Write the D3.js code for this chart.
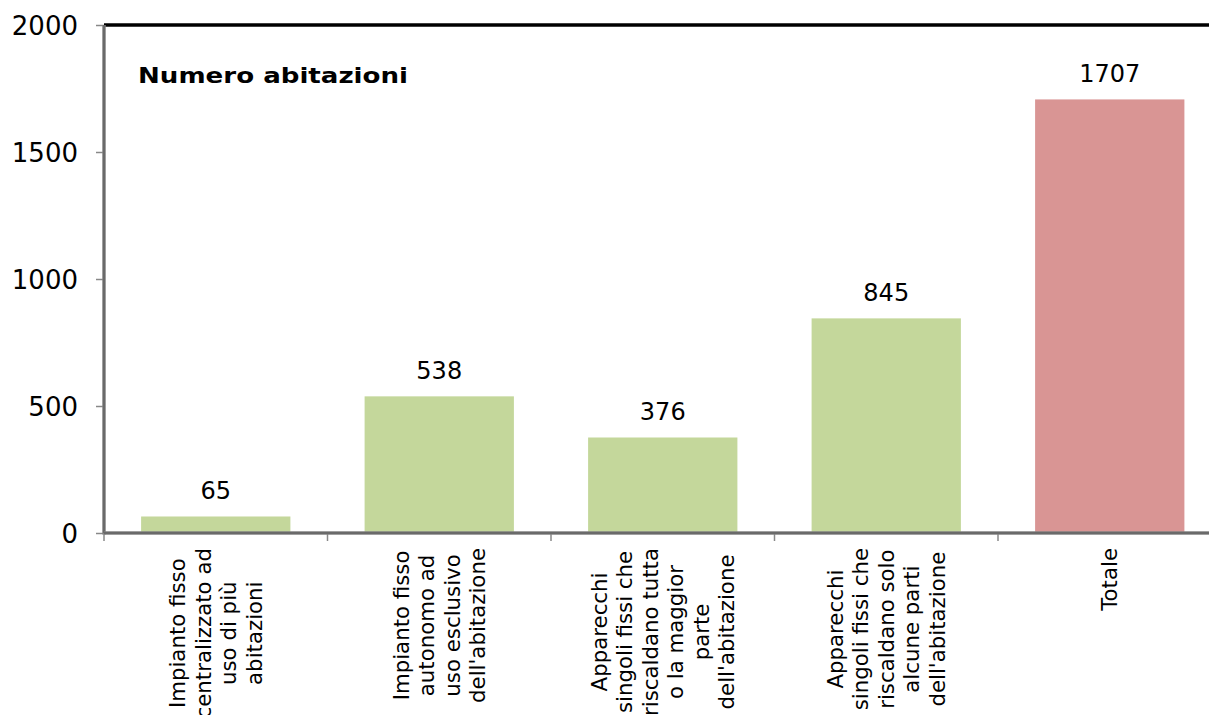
<!DOCTYPE html>
<html><head><meta charset="utf-8">
<script src="https://cdn.jsdelivr.net/npm/d3@7"></script>
<style>body{margin:0;background:#fff}svg{display:block}text{font-family:"DejaVu Sans",Verdana,sans-serif}</style>
</head><body><svg id="c" width="1209" height="715"></svg>
<script>
const categories = [
  "Impianto fisso\ncentralizzato ad\nuso di più\nabitazioni",
  "Impianto fisso\nautonomo ad\nuso esclusivo\ndell'abitazione",
  "Apparecchi\nsingoli fissi che\nriscaldano tutta\no la maggior\nparte\ndell'abitazione",
  "Apparecchi\nsingoli fissi che\nriscaldano solo\nalcune parti\ndell'abitazione",
  "Totale"
];
const values = [65, 538, 376, 845, 1707];
const barColors = ["#C4D79B", "#C4D79B", "#C4D79B", "#C4D79B", "#D99594"];
const yTicks = [0, 500, 1000, 1500, 2000];
const title = "Numero abitazioni";

const svg = d3.select("#c");
const mLeft = 104, mRight = 1221.5, mTop = 25, mBottom = 533;
const x = d3.scaleBand().domain(categories).range([mLeft, mRight]).paddingInner(0.332).paddingOuter(0.166);
const y = d3.scaleLinear().domain([0, 2000]).range([mBottom, mTop]);

// bars
svg.selectAll("rect.bar").data(values).join("rect").attr("class","bar")
  .attr("x",(d,i)=>x(categories[i])).attr("width",x.bandwidth())
  .attr("y",d=>y(d)).attr("height",d=>y(0)-y(d)).attr("fill",(d,i)=>barColors[i]);

// value labels
svg.selectAll("text.val").data(values).join("text").attr("class","val")
  .attr("x",(d,i)=>x(categories[i])+x.bandwidth()/2).attr("y",d=>y(d)-17)
  .attr("text-anchor","middle").attr("font-size",24).attr("fill","#000").text(d=>d);

// top border
svg.append("line").attr("x1",mLeft).attr("x2",1209).attr("y1",mTop).attr("y2",mTop)
  .attr("stroke","#000").attr("stroke-width",3.5);

// y axis
const yAxis = d3.axisLeft(y).tickValues(yTicks).tickSize(8).tickPadding(18).tickFormat(d3.format("d"));
const gy = svg.append("g").attr("transform",`translate(${mLeft},0)`).call(yAxis);
gy.select(".domain").remove();
gy.selectAll(".tick line").attr("stroke","#888").attr("stroke-width",1.5);
gy.selectAll(".tick text").attr("font-size",26).attr("fill","#000").attr("dy","0.36em");
svg.append("line").attr("x1",mLeft).attr("x2",mLeft).attr("y1",mTop).attr("y2",mBottom+1.5)
  .attr("stroke","#808080").attr("stroke-width",3.5);
svg.append("line").attr("x1",mLeft).attr("x2",mLeft).attr("y1",mTop).attr("y2",mBottom)
  .attr("stroke","#555").attr("stroke-width",1);

// x axis
const xTickPos = d3.range(categories.length+1).map(i=>mLeft + i*x.step());
svg.selectAll("line.xt").data(xTickPos).join("line").attr("class","xt")
  .attr("x1",d=>d).attr("x2",d=>d).attr("y1",mBottom).attr("y2",mBottom+8)
  .attr("stroke","#888").attr("stroke-width",1.5);
svg.append("line").attr("x1",mLeft).attr("x2",1209).attr("y1",mBottom).attr("y2",mBottom)
  .attr("stroke","#808080").attr("stroke-width",3.5);
svg.append("line").attr("x1",mLeft).attr("x2",1209).attr("y1",mBottom).attr("y2",mBottom)
  .attr("stroke","#555").attr("stroke-width",1);

// category labels
const lh = 25.5;
categories.forEach(c=>{
  const lines = c.split("\n");
  const cx = x(c)+x.bandwidth()/2;
  const g = svg.append("g").attr("transform",`translate(${cx},548) rotate(-90)`);
  const ts = lines.map((l,i)=>g.append("text").attr("font-size",21.3).attr("fill","#000")
     .attr("text-anchor","middle").attr("dominant-baseline","central")
     .attr("y",(i-(lines.length-1)/2)*lh).text(l));
  const L = d3.max(ts,t=>t.node().getComputedTextLength());
  ts.forEach(t=>t.attr("x",-L/2));
});

// title
svg.append("text").attr("x",138).attr("y",83).attr("font-size",21).attr("font-weight","bold")
  .attr("textLength",270).attr("lengthAdjust","spacingAndGlyphs")
  .attr("fill","#000").text(title);
</script></body></html>
